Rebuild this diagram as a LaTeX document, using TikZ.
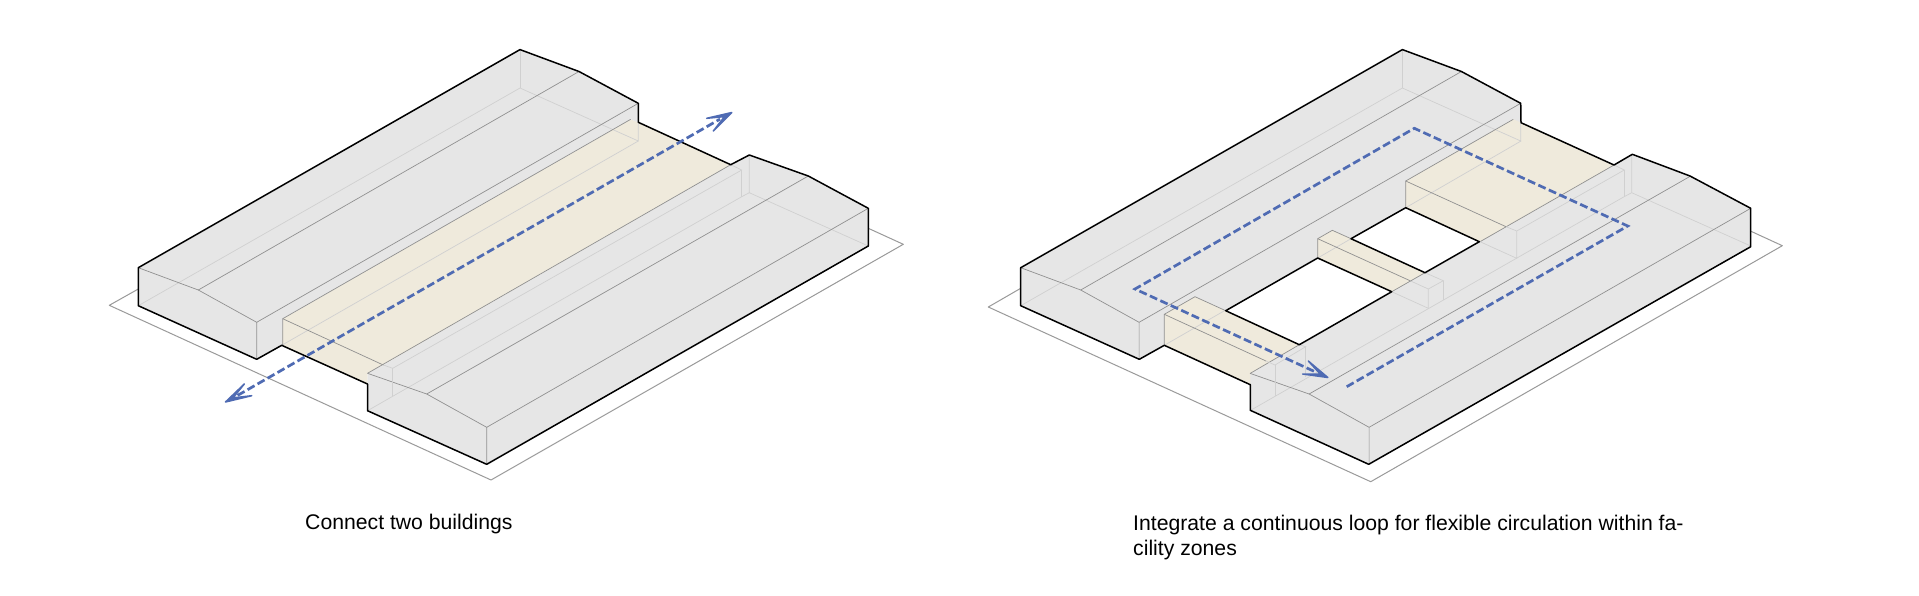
\documentclass[tikz,border=0pt]{standalone}
\usepackage{fontspec}
\setmainfont{Liberation Sans}
\definecolor{bldg}{HTML}{E6E6E6}
\definecolor{warm}{HTML}{EFEADC}
\definecolor{loopblue}{HTML}{4F6BB3}
\definecolor{midline}{HTML}{909090}
\definecolor{faintline}{HTML}{D0D0D0}
\definecolor{groundline}{HTML}{9A9A9A}
\tikzset{
  bldgfill/.style={fill=bldg,draw=none},
  warmfill/.style={fill=warm,draw=none},
  holefill/.style={fill=white,draw=none},
  midedge/.style={draw=midline,line width=0.7pt},
  faintedge/.style={draw=faintline,line width=0.7pt},
  outline/.style={draw=black,line width=1.5pt,line join=round},
  groundedge/.style={draw=groundline,line width=1pt,line join=round},
  flowline/.style={draw=loopblue,line width=2.7pt,dash pattern=on 8pt off 3.5pt,line join=miter},
  flowhead/.style={draw=loopblue,fill=loopblue,line width=1.5pt,line join=round,line cap=round},
  caption/.style={inner sep=0pt,text=black,font=\fontsize{21.2}{25.5}\selectfont,align=left},
}
\newcommand{\sharededges}{%
  % faint hidden edges of the two wings
  \draw[faintedge] (138.3,305.7) -- (520,88) -- (638.3,141) -- (638.3,103.3);
  \draw[faintedge] (520,49.6) -- (520,88);
  \draw[faintedge] (749.3,155) -- (749.3,192.7) -- (868.3,246);
  \draw[faintedge] (367.5,410.7) -- (741.7,196.7) -- (749.3,192.7);
  \draw[faintedge] (741.7,196.7) -- (741.7,170);
  % visible edges
  \draw[midedge] (138.3,267.7) -- (198.3,290) -- (256.7,322.3) -- (256.7,359.3);
  \draw[midedge] (198.3,290) -- (579,71.5);
  \draw[midedge] (256.7,322.3) -- (638.3,103.3);
  \draw[midedge] (367.5,373.3) -- (426.7,394) -- (486.7,427.3) -- (486.7,464.3);
  \draw[midedge] (426.7,394) -- (808.3,176);
  \draw[midedge] (486.7,427.3) -- (868.3,208.3);
}
\begin{document}
\begin{tikzpicture}[x=1pt,y=-1pt]
\useasboundingbox (0,0) rectangle (1919,595);
\fill[white] (0,0) rectangle (1919,595);

%%% LEFT FIGURE
\draw[groundedge] (138.3,289) -- (109.3,305.3) -- (491,480) -- (903.3,244.3) -- (868.3,228.3);
\fill[warmfill] (282.7,318.7) -- (630.7,119.3) -- (638.3,122.3) -- (730.7,164.7) -- (383.3,365) -- (367.5,373.3) -- (367.5,384) -- (281.7,345.3) -- cycle;
\fill[bldgfill] (138.3,305.7) -- (138.3,267.7) -- (520,49.6) -- (579,71.5) -- (638.3,103.3) -- (638.3,122.3) -- (630.7,119.3) -- (282.7,318.7) -- (281.7,345.3) -- (256.7,359.3) -- cycle;
\fill[bldgfill] (367.5,373.3) -- (383.3,365) -- (730.7,164.7) -- (749.3,155) -- (808.3,176) -- (868.3,208.3) -- (868.3,246) -- (486.7,464.3) -- (367.5,410.7) -- cycle;
\sharededges
\draw[faintedge] (281.7,345.3) -- (638.3,141);
\draw[faintedge] (383.3,365) -- (392.7,368.3) -- (741.7,170) -- (730.7,164.7);
\draw[faintedge] (392.7,368.3) -- (392.7,395.7);
\draw[midedge] (282.7,345.3) -- (282.7,318.7) -- (630.7,119.3);
\draw[midedge] (282.7,318.7) -- (383.3,365);
\draw[midedge] (367.5,373.3) -- (730.7,164.7);
\draw[outline] (138.3,305.7) -- (138.3,267.7) -- (520,49.6) -- (579,71.5) -- (638.3,103.3) -- (638.3,122.3) -- (730.7,164.7) -- (749.3,155) -- (808.3,176) -- (868.3,208.3) -- (868.3,246) -- (486.7,464.3) -- (367.5,410.7) -- (367.5,384) -- (281.7,345.3) -- (256.7,359.3) -- cycle;
\coordinate (spineA) at (237.6,395.4);
\coordinate (spineB) at (720,119.1);
\coordinate (notchA) at (233,397.9);
\coordinate (notchB) at (724.5,116.6);
\draw[flowline] (spineA) -- (spineB);
\filldraw[flowhead] (225.5,402) -- (244.3,384) -- (notchA) -- (251.7,395.7) -- cycle;
\filldraw[flowhead] (731.8,112.5) -- (706.7,118.3) -- (notchB) -- (713.3,131) -- cycle;
\node[caption,anchor=base west] (capA) at (305,529) {Connect two buildings};

%%% RIGHT FIGURE
\draw[groundedge] (1020.7,288.3) -- (988.3,307) -- (1370.7,481.7) -- (1782.3,245.7) -- (1751,231.3);
\fill[bldgfill] (1020.7,305.7) -- (1020.7,267.7) -- (1402.4,49.6) -- (1461.4,71.5) -- (1520.7,103.3) -- (1521,122.7) -- (1614,165) -- (1632.3,154.3) -- (1690,176) -- (1750.7,208.3) -- (1750.7,246.7) -- (1368.7,464.3) -- (1250.3,410.3) -- (1250.3,384.7) -- (1164.3,345.3) -- (1139.3,359.3) -- cycle;
% courtyards
\fill[holefill] (1225.7,310.7) -- (1317.7,258) -- (1391.7,291.7) -- (1299.3,344.7) -- cycle;
\fill[holefill] (1351,238.7) -- (1405.7,207.7) -- (1479.3,241.7) -- (1425,272.7) -- cycle;
% bridges
\fill[warmfill] (1164.3,345.3) -- (1164.3,314.3) -- (1195,296.7) -- (1299.3,344.7) -- (1250.3,373.3) -- (1250.3,384.7) -- cycle;
\fill[warmfill] (1317.7,258) -- (1317.7,238.7) -- (1332.3,230.3) -- (1425,272.7) -- (1391.7,291.7) -- cycle;
\fill[warmfill] (1405.7,207.7) -- (1405.7,181) -- (1513.3,119.3) -- (1521,122.7) -- (1614,165) -- (1480,241.7) -- cycle;
\begin{scope}[xshift=882.4pt]
\sharededges
\end{scope}
% hidden structure over the bridges
\draw[faintedge] (1164.3,345.3) -- (1225.7,310);
\draw[faintedge] (1317.7,258) -- (1351,238.7);
\draw[faintedge] (1405.7,207.7) -- (1521,141);
% bridge edges
\draw[midedge] (1164.3,345.3) -- (1164.3,314.3) -- (1195,296.7) -- (1225.7,310.7);
\draw[midedge] (1164.3,314.3) -- (1266,361);
\draw[midedge] (1250.3,373.3) -- (1299.3,344.7);
\draw[faintedge] (1266,361) -- (1275,365) -- (1305.7,346.7) -- (1299.3,344.7);
\draw[faintedge] (1275,365) -- (1275,395.7);
\draw[faintedge] (1305.7,346.7) -- (1305.7,376.7);
\draw[midedge] (1317.7,258) -- (1317.7,238.7) -- (1332.3,230.3) -- (1351,238.7);
\draw[midedge] (1317.7,238.7) -- (1410,280.7);
\draw[faintedge] (1410,280.7) -- (1428.3,289) -- (1443.3,280.7) -- (1425,272.7);
\draw[faintedge] (1428.3,289) -- (1428.3,308.3) -- (1391.7,291.7);
\draw[faintedge] (1443.3,280.7) -- (1443.3,300);
\draw[midedge] (1391.7,291.7) -- (1425,272.7);
\draw[midedge] (1405.7,207.7) -- (1405.7,181) -- (1513.3,119.3);
\draw[midedge] (1405.7,181) -- (1506,226.7);
\draw[midedge] (1480,241.7) -- (1614,165);
\draw[faintedge] (1506,226.7) -- (1516.7,231) -- (1624.3,170) -- (1614,165);
\draw[faintedge] (1516.7,231) -- (1516.7,258.3) -- (1480,241.7);
% outlines
\draw[outline] (1020.7,305.7) -- (1020.7,267.7) -- (1402.4,49.6) -- (1461.4,71.5) -- (1520.7,103.3) -- (1521,122.7) -- (1614,165) -- (1632.3,154.3) -- (1690,176) -- (1750.7,208.3) -- (1750.7,246.7) -- (1368.7,464.3) -- (1250.3,410.3) -- (1250.3,384.7) -- (1164.3,345.3) -- (1139.3,359.3) -- cycle;
\draw[outline] (1225.7,310.7) -- (1317.7,258) -- (1391.7,291.7) -- (1299.3,344.7) -- cycle;
\draw[outline] (1351,238.7) -- (1405.7,207.7) -- (1479.3,241.7) -- (1425,272.7) -- cycle;
% circulation loop
\coordinate (loopS) at (1346.7,386.7);
\coordinate (loopR) at (1627.7,226);
\coordinate (loopT) at (1414.3,128.3);
\coordinate (loopL) at (1135,289);
\coordinate (loopE) at (1315.8,372.1);
\coordinate (notchL) at (1320.3,374.1);
\draw[flowline] (loopS) -- (loopR) -- (loopT) -- (loopL) -- (loopE);
\filldraw[flowhead] (1327.8,377.5) -- (1308.3,361) -- (notchL) -- (1302.7,374) -- cycle;
\node[caption,anchor=base west] (capB) at (1133,555.5) {Integrate a continuous loop for flexible circulation within fa-\\cility zones};
\end{tikzpicture}
\end{document}
